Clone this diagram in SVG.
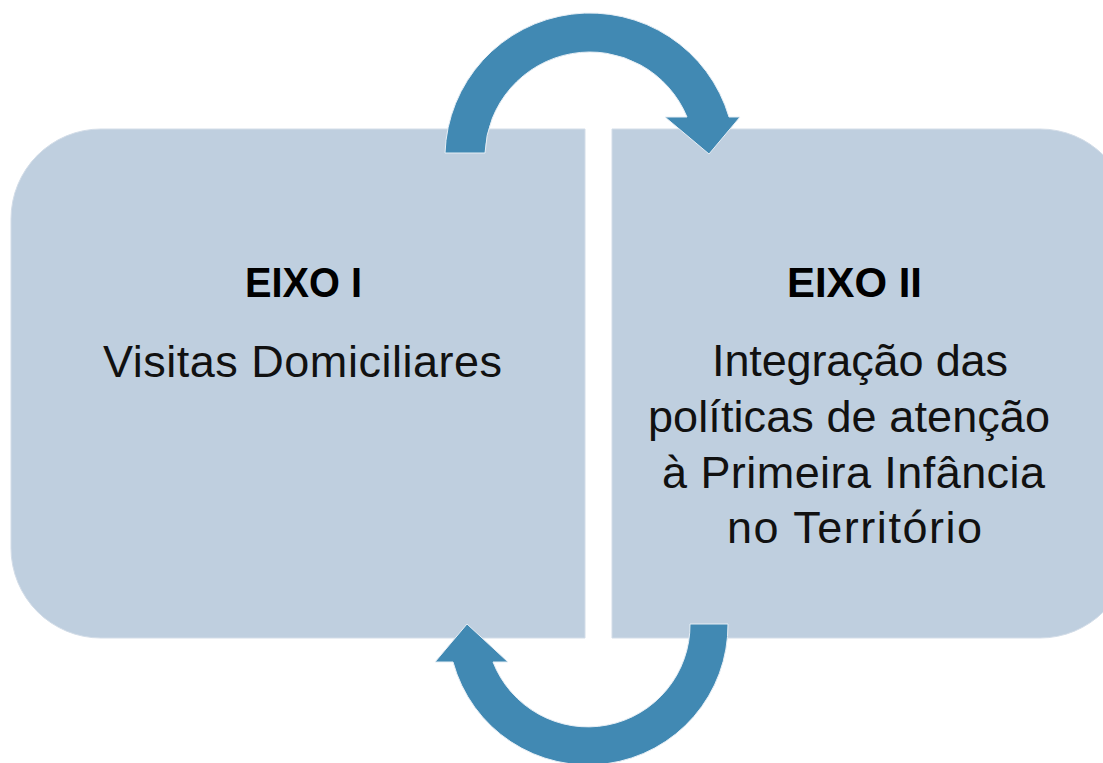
<svg xmlns="http://www.w3.org/2000/svg" width="1103" height="763" viewBox="0 0 1103 763">
  <style>
    .box { fill: #bfcfdf; stroke: #d3dde8; stroke-width: 1; }
    .arrow { fill: #4189b3; stroke: #e6eef5; stroke-width: 1; }
    .title { font-family: "Liberation Sans", Arial, sans-serif; font-weight: bold; font-size: 43px; fill: #000; text-anchor: middle; }
    .body { font-family: "Liberation Sans", Arial, sans-serif; font-size: 45px; fill: #111; text-anchor: middle; }
  </style>
  <rect x="0" y="0" width="1103" height="763" fill="#ffffff"/>
  <g id="eixo1">
    <path class="box" d="M 101 129 H 585 V 638 H 101 A 90 90 0 0 1 11 548 V 219 A 90 90 0 0 1 101 129 Z"/>
    <text class="title" x="303.5" y="297" textLength="117" lengthAdjust="spacingAndGlyphs">EIXO I</text>
    <text class="body" x="302.5" y="377" textLength="399">Visitas Domiciliares</text>
  </g>
  <g id="eixo2">
    <path class="box" d="M 612 129 H 1040 A 90 90 0 0 1 1130 219 V 548 A 90 90 0 0 1 1040 638 H 612 Z"/>
    <text class="title" x="854.5" y="297" textLength="135" lengthAdjust="spacingAndGlyphs">EIXO II</text>
    <text class="body" x="860" y="376" textLength="296">Integração das</text>
    <text class="body" x="849" y="432" textLength="402">políticas de atenção</text>
    <text class="body" x="853.5" y="488" textLength="383">à Primeira Infância</text>
    <text class="body" x="854.5" y="543" textLength="255">no Território</text>
  </g>
  <g id="connectors">
    <path class="arrow" d="M 445 153 A 145 145 0 0 1 729 117 L 740 117 L 709 154 L 665 117 L 687 117 A 105 105 0 0 0 485 153 Z"/>
    <path class="arrow" d="M 728 624 A 140 140 0 0 1 453 662 L 435 662 L 467 624 L 508 662 L 493 662 A 102 102 0 0 0 690 624 Z"/>
  </g>
</svg>
